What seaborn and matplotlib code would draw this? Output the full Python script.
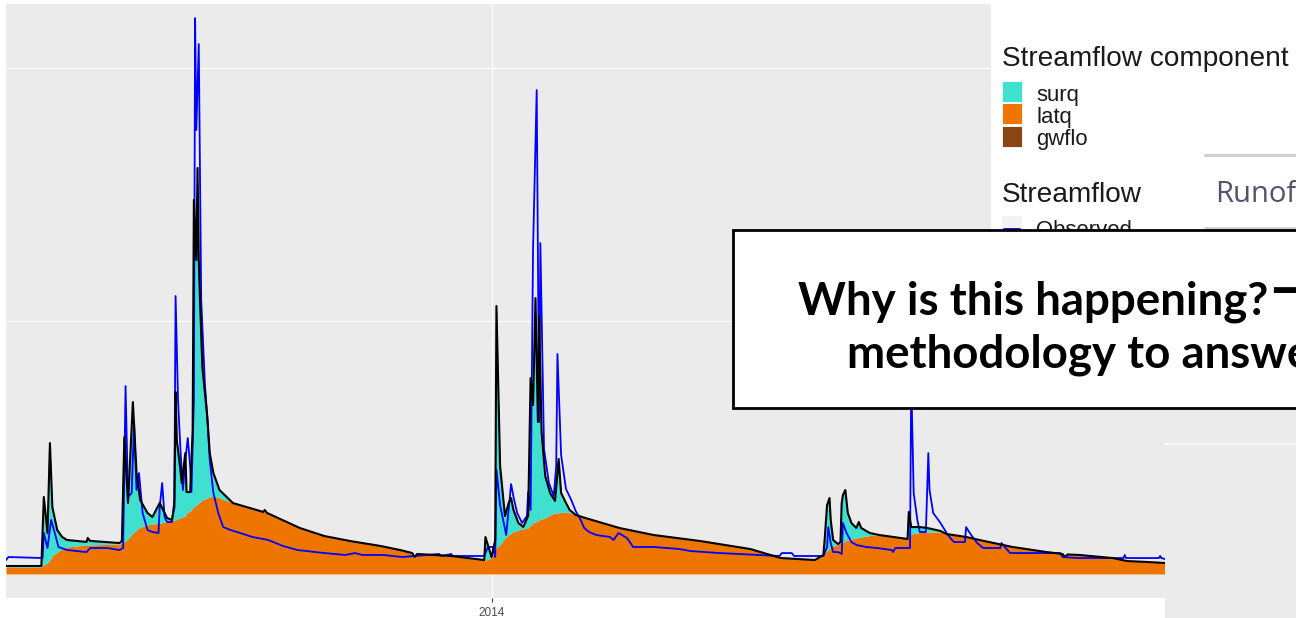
import numpy as np
import pandas as pd
import matplotlib
matplotlib.use("Agg")
import matplotlib.pyplot as plt
from matplotlib.patches import Rectangle
import seaborn as sns

# ---------------------------------------------------------------------------
# Daily streamflow (m3/s): simulated components and observed flow.
# Days are counted from the first day of the simulation period.
# ---------------------------------------------------------------------------
START = pd.Timestamp("2012-11-29")

sim_day = [0, 29, 31, 34, 36, 38, 42, 46, 50, 66, 67, 69, 93, 95, 97, 100, 104, 107,
           110, 116, 120, 126, 132, 136, 138, 139, 140, 143, 144, 147, 148, 151, 153,
           154, 156, 157, 158, 159, 161, 165, 167, 170, 175, 186, 200, 211, 212, 214,
           241, 261, 282, 307, 323, 333, 335, 337, 365, 392, 393, 396, 398, 401, 402,
           405, 409, 412, 414, 416, 420, 424, 428, 430, 432, 434, 436, 437, 439, 442,
           446, 450, 453, 455, 459, 462, 467, 475, 489, 503, 531, 569, 610, 635, 663,
           670, 671, 673, 675, 676, 678, 682, 684, 685, 686, 688, 690, 693, 697, 699,
           701, 708, 716, 727, 739, 740, 742, 749, 755, 766, 771, 787, 798, 825, 853,
           866, 868, 870, 880, 907, 919, 935, 950]

latq = [6.9, 6.9, 8.9, 10.9, 13.8, 17.8, 21.7, 24.7, 26.7, 28.7, 28.7, 28.7, 29.6, 30.6,
        31.6, 34.6, 40.5, 43.5, 46.4, 48.4, 49.4, 50.4, 51.4, 52.9, 53.4, 53.4, 54.3,
        55.3, 56.3, 57.3, 60.3, 62.2, 65.2, 66.2, 68.2, 69.2, 70.1, 71.1, 73.1, 75.1,
        76.1, 77.1, 75.1, 70.1, 65.2, 61.3, 61.3, 60.3, 45.4, 37.5, 32.6, 27.7, 23.7,
        20.7, 16.8, 19.8, 17.8, 13.8, 13.8, 14.8, 16.8, 23.7, 26.7, 28.7, 35.6, 38.5,
        40.5, 41.5, 43.5, 44.5, 45.4, 48.4, 50.4, 51.4, 52.4, 53.4, 54.3, 55.3, 58.3,
        60.3, 60.3, 60.8, 61.3, 60.3, 58.3, 55.3, 50.4, 45.4, 38.5, 32.6, 24.7, 15.8,
        13.8, 17.8, 20.7, 22.7, 24.7, 26.7, 27.7, 29.1, 30.6, 31.1, 31.6, 32.6, 33.6,
        34.6, 35.6, 36.1, 36.6, 38.0, 38.5, 36.6, 34.6, 36.6, 39.5, 41.0, 41.5, 41.5,
        39.5, 36.6, 33.6, 26.7, 21.7, 19.8, 16.8, 19.3, 18.8, 15.8, 12.8, 11.9, 10.9]

surq = [1.0, 1.0, 67.2, 29.6, 115.6, 48.4, 21.7, 11.9, 6.9, 3.0, 6.9, 4.0, 1.0, 2.0,
        103.7, 35.6, 129.4, 56.3, 26.7, 11.9, 6.9, 19.8, 4.0, 0.5, 12.8, 126.5, 78.1,
        47.4, 33.6, 62.2, 20.7, 18.8, 77.1, 303.3, 242.1, 332.0, 240.1, 199.6, 130.4,
        80.0, 43.5, 22.7, 7.9, 0.0, 0.0, 0.0, 2.0, 0.0,
        0.0, 0.0, 0.0, 0.0, 0.0, 0.0, 0.0, 0.0, 0.0, 0.0,
        22.7, 9.9, 0.0, 9.9, 238.1, 78.1, 21.7, 31.6, 34.6, 21.7,
        6.9, 2.0, 11.9, 145.2, 116.6, 221.3, 97.8, 200.6, 86.0, 41.5, 21.7, 11.9, 53.4,
        19.3, 8.9, 3.0, 0.0, 0.0, 0.0, 0.0, 0.0, 0.0, 0.0, 0.0, 0.0,
        1.0, 12.8, 45.4, 50.4, 26.7, 5.9, 0.5, 1.0, 39.0, 46.4, 50.4, 26.7, 15.8, 9.9,
        15.3, 8.9, 2.5, 0.0, 0.0, 0.0, 24.7, 6.9, 5.4, 4.0, 1.0,
        0.0, 0.0, 0.0, 0.0, 0.0, 0.0, 0.0, 0.0, 0.0, 0.0, 0.0, 0.0, 0.0]

obs_day = [0, 2, 29, 30, 31, 34, 37, 40, 43, 50, 66, 69, 83, 93, 96, 98, 100, 103, 105,
           107, 109, 112, 116, 120, 125, 126, 128, 130, 132, 136, 138, 139, 141, 143,
           145, 147, 149, 151, 152, 154, 155, 156, 158, 160, 163, 165, 167, 170, 174,
           178, 184, 192, 202, 215, 227, 239, 261, 278, 286, 292, 309, 325, 355, 357,
           365, 366, 392, 395, 399, 401, 402, 405, 410, 414, 416, 419, 423, 427, 428,
           430, 431, 432, 435, 437, 438, 441, 445, 449, 451, 452, 455, 459, 463, 467,
           471, 474, 478, 484, 495, 498, 502, 509, 514, 531, 552, 561, 585, 618, 634,
           636, 644, 646, 670, 673, 674, 676, 678, 682, 685, 686, 689, 693, 697, 705,
           714, 726, 727, 729, 741, 742, 744, 747, 749, 754, 756, 757, 760, 766, 771,
           774, 777, 786, 787, 790, 796, 801, 815, 816, 823, 864, 866, 878, 916, 917,
           918, 945, 946, 947, 950]

observed = [13.8, 16.8, 15.8, 15.8, 40.5, 25.7, 53.4, 40.5, 26.7, 23.7, 21.7, 25.7,
            25.7, 23.7, 25.7, 185.7, 76.1, 80.0, 149.2, 83.0, 99.8, 60.3, 43.5, 41.5,
            40.5, 66.2, 89.9, 56.3, 51.4, 51.4, 73.1, 274.7, 171.9, 122.5, 83.0, 112.6,
            134.4, 105.7, 81.0, 171.9, 549.3, 438.7, 523.6, 270.7, 188.7, 155.1, 112.6,
            80.0, 60.3, 46.4, 43.5, 40.5, 36.6, 33.6, 27.7, 23.7, 20.7, 18.8, 20.7, 18.8,
            18.8, 16.8, 19.8, 17.8, 19.8, 17.8, 17.8, 26.7, 26.7, 16.8, 102.8, 68.2,
            38.5, 88.9, 76.1, 60.3, 50.4, 57.3, 81.0, 63.2, 193.6, 320.1, 478.2, 150.2,
            327.0, 123.5, 89.9, 77.1, 106.7, 217.4, 117.6, 84.0, 74.1, 62.2, 53.4, 45.4,
            41.5, 38.5, 36.6, 33.6, 40.5, 35.6, 26.7, 26.7, 24.7, 22.7, 20.7, 18.8, 17.8,
            20.7, 20.7, 17.8, 17.8, 26.7, 46.4, 30.6, 21.7, 21.7, 19.8, 50.4, 40.5, 31.6,
            28.7, 26.7, 25.7, 23.7, 21.7, 25.7, 25.7, 191.7, 80.0, 53.4, 41.5, 41.5,
            119.5, 83.0, 60.3, 50.4, 40.5, 35.6, 31.6, 31.6, 46.4, 40.5, 30.6, 25.7,
            25.7, 30.6, 20.7, 20.7, 16.8, 15.8, 15.8, 18.8, 15.8, 15.8, 17.8, 15.8, 14.8]

year_tick = "2014-01-01"
year_label = "2014"

component_labels = ["surq", "latq", "gwflo"]
streamflow_labels = ["Observed"]

# ---------------------------------------------------------------------------
COLORS = {"surq": "#40E0D0", "latq": "#EE7600", "gwflo": "#8B4513"}
W, H = 1296, 618

sns.set_theme(style="darkgrid",
              rc={"axes.facecolor": "#EBEBEB", "grid.color": "white",
                  "figure.facecolor": "white"})
plt.rcParams["font.family"] = ["Liberation Sans", "DejaVu Sans"]

sim_dates = START + pd.to_timedelta(sim_day, unit="D")
obs_dates = START + pd.to_timedelta(obs_day, unit="D")
latq_a = np.array(latq)
simulated = latq_a + np.array(surq)

fig = plt.figure(figsize=(W / 100, H / 100), dpi=100)
ax = fig.add_axes([6 / W, 20 / H, 1159 / W, 594 / H])

# stacked streamflow components
ax.fill_between(sim_dates, 0, latq_a, color=COLORS["latq"], lw=0, zorder=2)
ax.fill_between(sim_dates, latq_a, simulated, color=COLORS["surq"], lw=0, zorder=2)

# observed and simulated total streamflow
sns.lineplot(x=obs_dates, y=observed, ax=ax, color="#0000FF", lw=1.3, zorder=3)
sns.lineplot(x=sim_dates, y=simulated, ax=ax, color="black", lw=1.5, zorder=4)

ax.set_xlim(START, START + pd.Timedelta(days=950))
ax.set_ylim(-23.7, 563.2)
ax.set_yticks([0, 250, 500])
ax.set_yticklabels([])
ax.set_xticks([pd.Timestamp(year_tick)])
ax.set_xticklabels([year_label])
ax.tick_params(axis="y", left=False, length=0)
ax.tick_params(axis="x", bottom=True, length=3, width=0.8, color="#333333",
               labelsize=8.5, labelcolor="#4D4D4D", pad=3.5)
ax.grid(True, color="white", lw=0.8)
ax.set_xlabel("")
ax.set_ylabel("")
for s in ax.spines.values():
    s.set_visible(False)

# ---------------------------------------------------------------------------
# Overlay layer in pixel coordinates: legend panel, side panel and text box
# ---------------------------------------------------------------------------
ov = fig.add_axes([0, 0, 1, 1], zorder=10)
ov.set_xlim(0, W)
ov.set_ylim(H, 0)
ov.axis("off")
ov.patch.set_alpha(0)

ov.add_patch(Rectangle((991, 0), 320, 230, fc="white", ec="none", zorder=1))
ov.add_patch(Rectangle((1165, 408), 140, 215, fc="#EBEBEB", ec="none", zorder=1))
ov.plot([1165, 1300], [443.5, 443.5], color="#F7F7F7", lw=1.5, zorder=2)

# legend: streamflow components
ov.text(1002, 66.5, "Streamflow component", fontsize=20.2, color="#1A1A1A",
        va="baseline", ha="left")
for i, name in enumerate(component_labels):
    y0 = 81 + i * 22.3
    ov.add_patch(Rectangle((1002, y0), 20, 21, fc=COLORS[name], ec="white",
                           lw=0.6, zorder=2))
    ov.text(1036, y0 + 19.5, name, fontsize=15.9, color="#1A1A1A",
            va="baseline", ha="left", zorder=3)

# legend: streamflow lines
ov.text(1002, 201.7, "Streamflow", fontsize=20.2, color="#1A1A1A",
        va="baseline", ha="left")
ov.add_patch(Rectangle((1002, 216), 20, 21, fc="#F2F2F2", ec="none", zorder=2))
ov.plot([1004, 1020], [228.5, 228.5], color="#0000FF", lw=1.3, zorder=3)
ov.text(1036, 236, streamflow_labels[0], fontsize=15.9, color="#1A1A1A",
        va="baseline", ha="left", zorder=3)

# side tab
ov.plot([1205, 1300], [155, 155], color="#CFCFCF", lw=2.2, zorder=2)
ov.plot([1205, 1300], [228, 228], color="#CFCFCF", lw=2.0, zorder=2)
ov.text(1215, 202.5, "Runof", fontsize=21, color="#5A4F6B", family="Open Sans",
        va="baseline", ha="left", zorder=3)

# question box
ov.add_patch(Rectangle((733, 230), 600, 178, fc="white", ec="black", lw=2.0, zorder=5))
ov.text(798, 314.6, "Why is this happening?", fontsize=32.9, fontweight="bold",
        family=["Lato", "DejaVu Sans"], color="black", va="baseline", ha="left", zorder=6)
ov.text(1270, 292, "\u2192", fontsize=36, fontweight="bold",
        family="DejaVu Sans", color="black", va="center", ha="left", zorder=6)
ov.text(847, 368, "methodology to answer", fontsize=32.9, fontweight="bold",
        family=["Lato", "DejaVu Sans"], color="black", va="baseline", ha="left", zorder=6)

fig.savefig("out.png", dpi=100, facecolor="white")
